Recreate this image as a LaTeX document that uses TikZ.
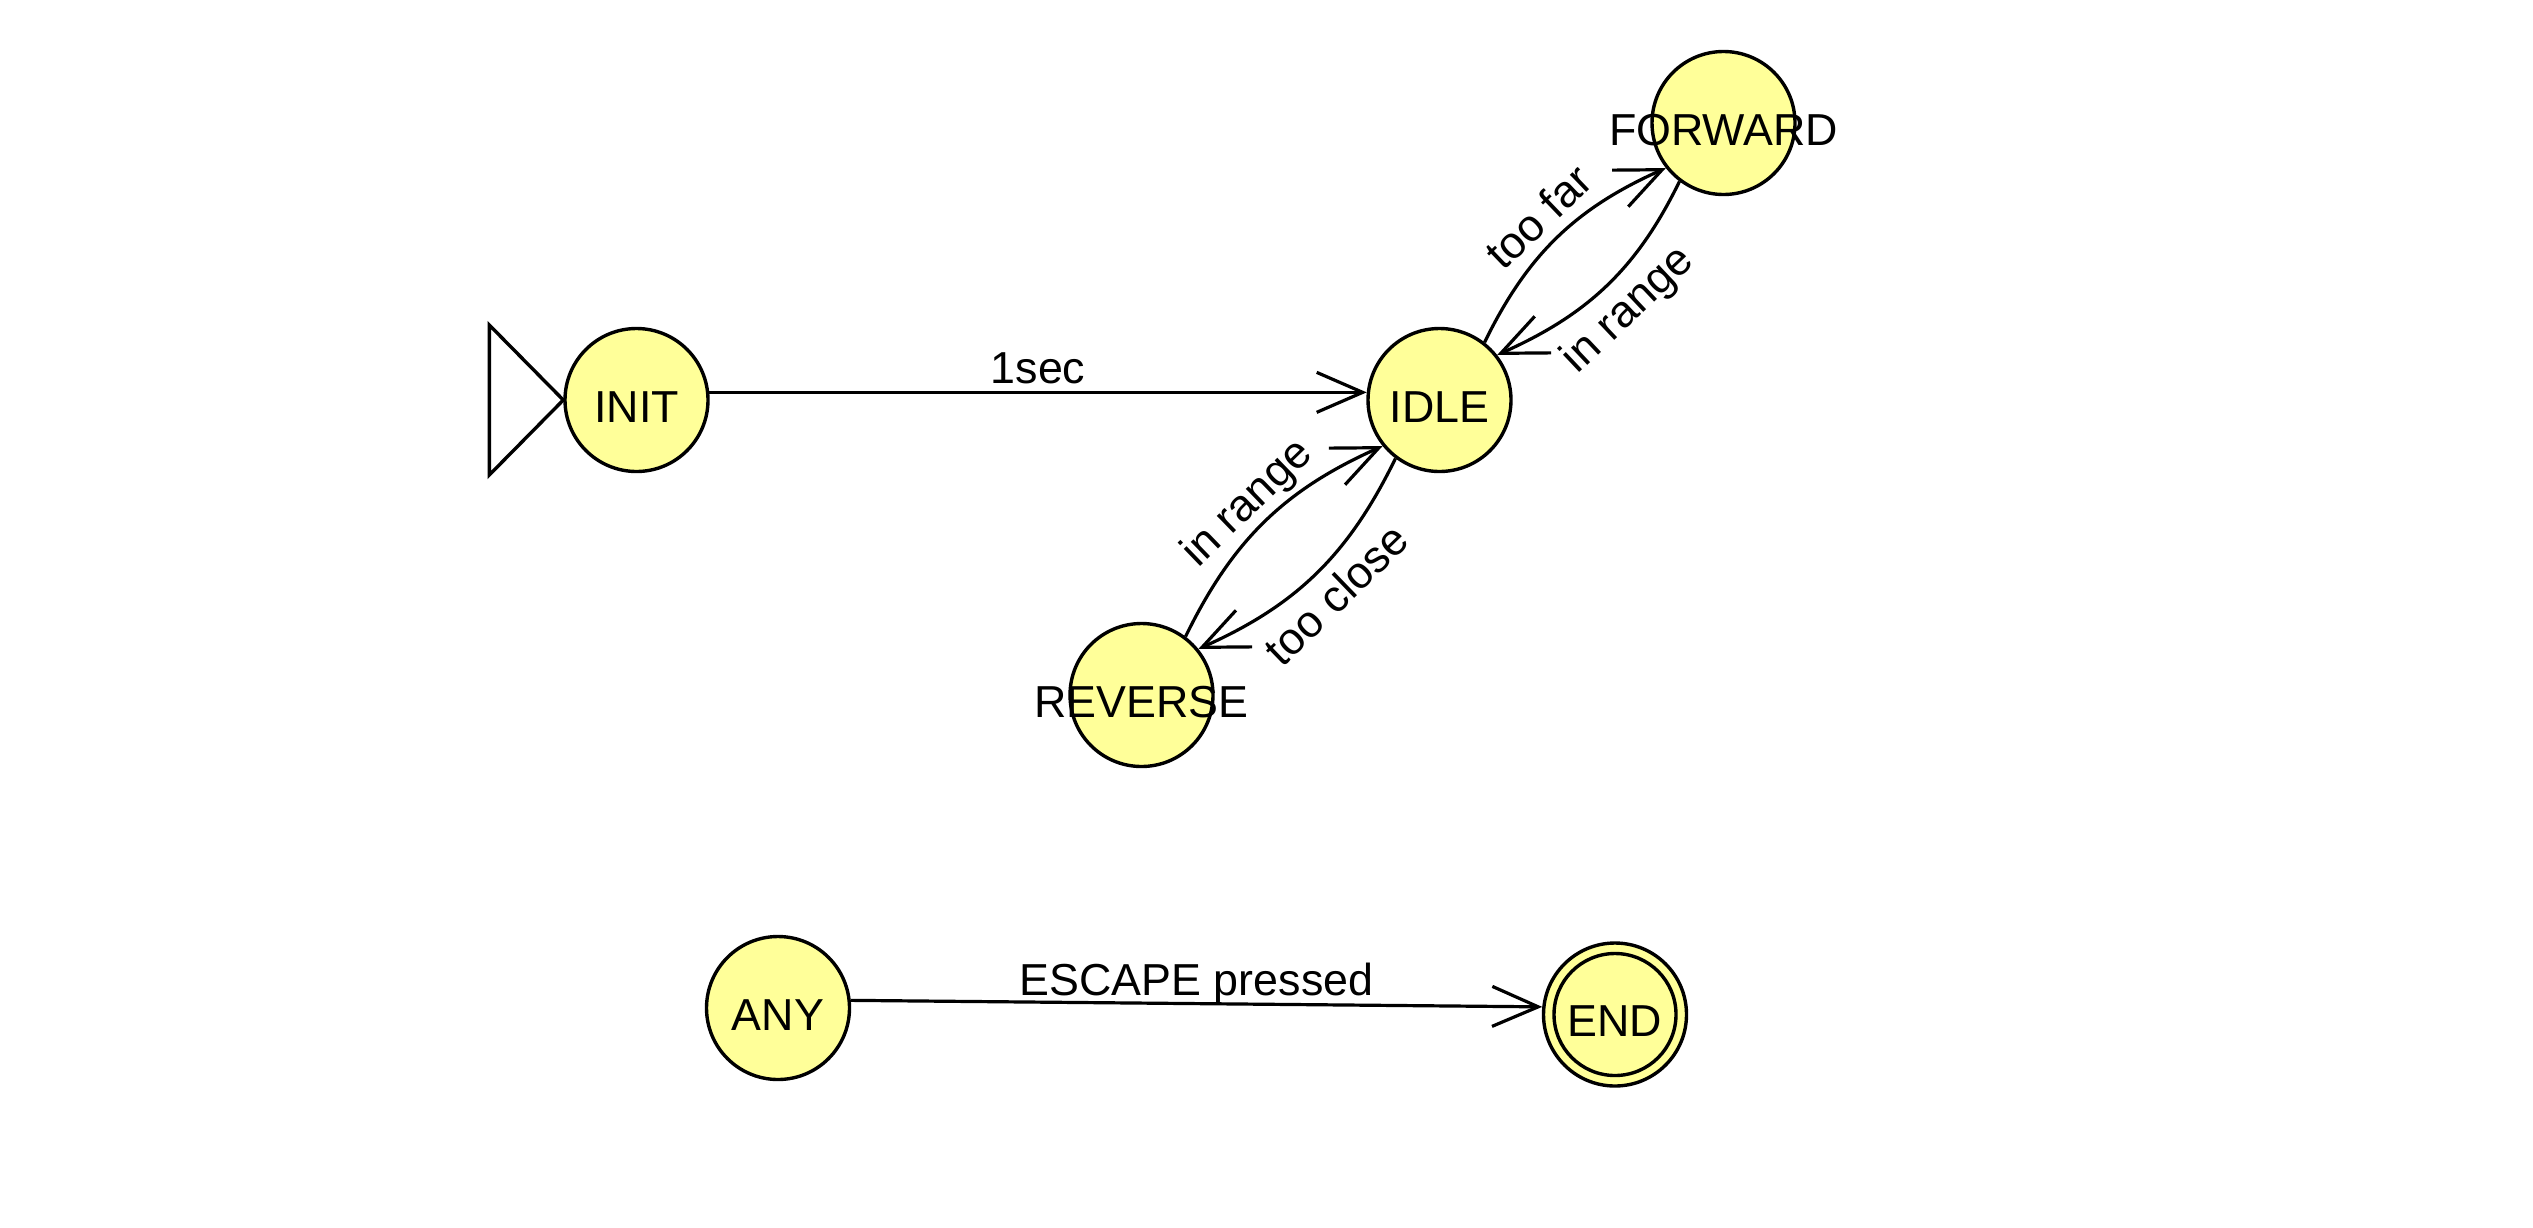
\documentclass[tikz,border=0pt]{standalone}
\usepackage{fontspec}
\setmainfont{Liberation Sans}
\usetikzlibrary{arrows.meta}
\definecolor{stateyellow}{RGB}{255,255,153}
\begin{document}
\begin{tikzpicture}[x=0.5pt,y=0.5pt,
  font=\fontsize{22.4pt}{26pt}\selectfont,
  state/.style={circle, draw, line width=1.7pt, fill=stateyellow, minimum size=71.5pt, inner sep=0pt},
  statetext/.style={text height=22pt, text depth=0pt, inner sep=0pt},
  trans/.style={line width=1.6pt, -{Straight Barb[length=23pt,width=20pt]}},
  lab/.style={text depth=0pt, inner sep=5.5pt},
  straightlab/.style={text depth=0pt, inner sep=3.5pt}
]
\useasboundingbox (0,0) rectangle (2533,-1227);
% states
\node[state, label={[statetext, name=INITt]center:INIT}] (INIT) at (636.5,-400) {};
\node[state, label={[statetext, name=IDLEt]center:IDLE}] (IDLE) at (1439.5,-400) {};
\node[state, label={[statetext, name=FORWARDt]center:FORWARD}] (FORWARD) at (1723.5,-123) {};
\node[state, label={[statetext, name=REVERSEt]center:REVERSE}] (REVERSE) at (1141.5,-695) {};
\node[state, label={[statetext, name=ANYt]center:ANY}] (ANY) at (778,-1008) {};
\node[state] (END) at (1615,-1014.5) {};
\draw[line width=1.7pt] (END.center) circle[radius=61];
\node[statetext] (ENDt) at (END.center) {END};
% initial marker
\draw[line width=1.7pt] (INIT.west) -- ++(-74,75) -- ++(0,-150) -- cycle;
% transitions
\draw[trans] (INIT.6) -- node[straightlab, above] (l1) {1sec} (IDLE.174);
\draw[trans] (IDLE.52) to[out=64,in=204] node[lab, above, sloped] (l2) {too far} (FORWARD.218);
\draw[trans] (FORWARD.233) to[out=244,in=24] node[lab, below, sloped] (l3) {in range} (IDLE.38);
\draw[trans] (REVERSE.53) to[out=64,in=204] node[lab, above, sloped] (l4) {in range} (IDLE.219);
\draw[trans] (IDLE.233) to[out=244,in=24] node[lab, below, sloped] (l5) {too close} (REVERSE.39);
\draw[trans] (ANY.6) -- node[straightlab, above] (l6) {ESCAPE pressed} (END.174);
\end{tikzpicture}
\end{document}
